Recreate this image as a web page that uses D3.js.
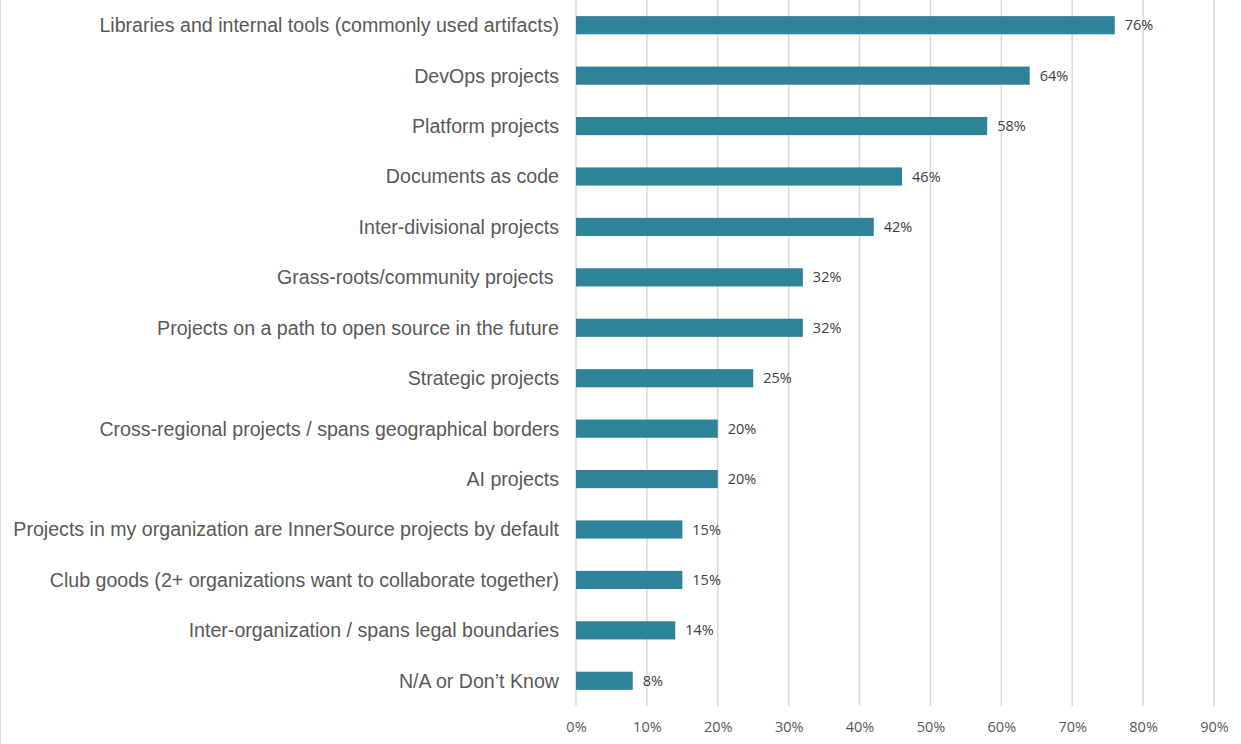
<!DOCTYPE html>
<html>
<head>
<meta charset="utf-8">
<script src="https://cdn.jsdelivr.net/npm/d3@7"></script>
<style>
  html, body { margin: 0; padding: 0; background: #fff; }
  svg { display: block; }
</style>
</head>
<body>
<svg id="chart" width="1241" height="744"></svg>
<script>
// Types of InnerSource projects, share of respondents
const categories = [
  "Libraries and internal tools (commonly used artifacts)",
  "DevOps projects",
  "Platform projects",
  "Documents as code",
  "Inter-divisional projects",
  "Grass-roots/community projects ",
  "Projects on a path to open source in the future",
  "Strategic projects",
  "Cross-regional projects / spans geographical borders",
  "AI projects",
  "Projects in my organization are InnerSource projects by default",
  "Club goods (2+ organizations want to collaborate together)",
  "Inter-organization / spans legal boundaries",
  "N/A or Don\u2019t Know"
];
const values = [76, 64, 58, 46, 42, 32, 32, 25, 20, 20, 15, 15, 14, 8];
const tickValues = [0, 10, 20, 30, 40, 50, 60, 70, 80, 90];

const svg = d3.select("#chart");
const W = 1241, H = 744;

// outer frame
svg.append("rect")
  .attr("x", 0.5).attr("y", -1).attr("width", W + 2).attr("height", H + 2)
  .attr("fill", "none").attr("stroke", "#d9d9d9").attr("stroke-width", 1);

const plotLeft = 576, plotRight = 1214, plotTop = 0, plotBottom = 706;

const x = d3.scaleLinear().domain([0, 90]).range([plotLeft, plotRight]);
const y = d3.scaleBand().domain(categories).range([plotTop, plotBottom])
  .paddingInner(0.64).paddingOuter(0.32);

// vertical gridlines
svg.append("g").selectAll("line").data(tickValues).join("line")
  .attr("x1", d => x(d)).attr("x2", d => x(d))
  .attr("y1", plotTop).attr("y2", plotBottom)
  .attr("stroke", "#d9d9d9").attr("stroke-width", 1.5);

// bars
svg.append("g").selectAll("rect").data(values).join("rect")
  .attr("x", x(0))
  .attr("y", (d, i) => y(categories[i]))
  .attr("width", d => x(d) - x(0))
  .attr("height", y.bandwidth())
  .attr("fill", "#2e8299");

// value labels
svg.append("g").selectAll("text").data(values).join("text")
  .attr("x", d => x(d) + 10)
  .attr("y", (d, i) => y(categories[i]) + y.bandwidth() / 2)
  .attr("dy", "0.35em")
  .attr("font-family", "'Open Sans', 'Noto Sans', sans-serif")
  .attr("font-size", 14.5)
  .attr("fill", "#404040")
  .text(d => d + "%");

// category labels
svg.append("g").selectAll("text").data(categories).join("text")
  .attr("x", 559)
  .attr("y", d => y(d) + y.bandwidth() / 2)
  .attr("dy", "0.35em")
  .attr("text-anchor", "end")
  .style("white-space", "pre")
  .attr("font-family", "'Liberation Sans', Arial, sans-serif")
  .attr("font-size", 19.6)
  .attr("fill", "#595959")
  .text(d => d);

// x axis tick labels
const xAxis = d3.axisBottom(x).tickValues(tickValues).tickSize(0).tickPadding(0)
  .tickFormat(d => d + "%");
const ax = svg.append("g").attr("transform", `translate(0, ${plotBottom + 21})`).call(xAxis);
ax.select(".domain").remove();
ax.selectAll("text")
  .attr("dy", "0.35em").attr("y", 0)
  .attr("font-family", "'Open Sans', 'Noto Sans', sans-serif")
  .attr("font-size", 14.5)
  .attr("fill", "#595959");
</script>
</body>
</html>
